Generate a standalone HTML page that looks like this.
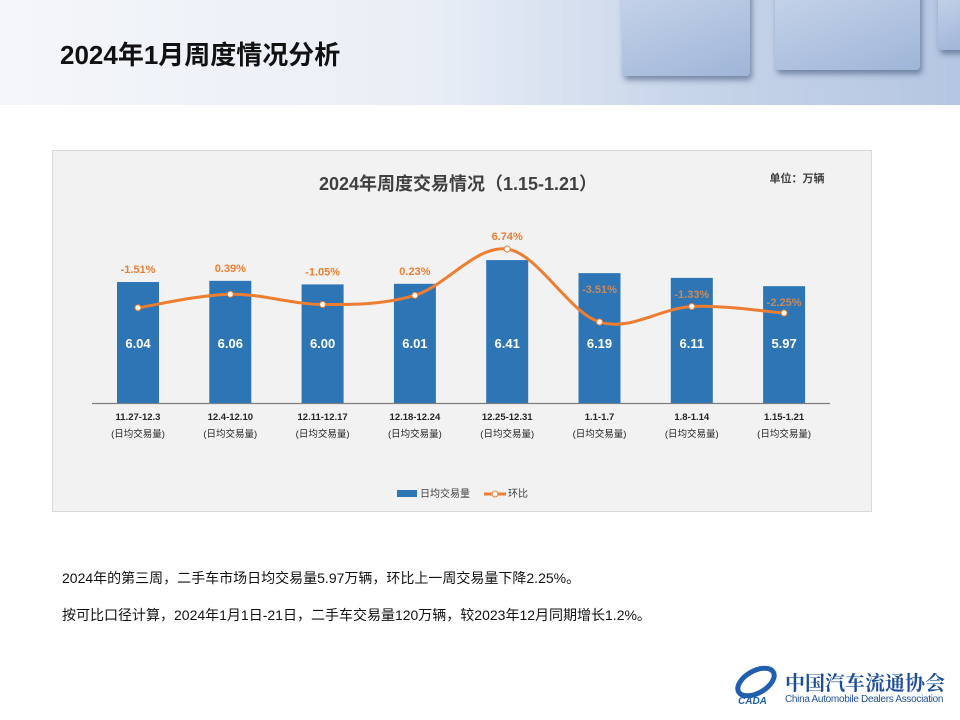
<!DOCTYPE html>
<html><head><meta charset="utf-8">
<style>
body{margin:0;width:960px;height:720px;overflow:hidden;background:#fff;font-family:"Liberation Sans","Noto Sans CJK SC",sans-serif;position:relative}
#hdr{position:absolute;left:0;top:0;width:960px;height:105px;background:linear-gradient(90deg,#f4f6fa 0%,#e9eef6 45%,#c9d6ea 70%,#b4c6e2 100%)}
.cube{position:absolute;background:linear-gradient(160deg,#c6d4ea,#9fb5d8);border-radius:4px;box-shadow:2px 4px 6px rgba(40,60,100,.5)}
h1{position:absolute;left:60px;top:35px;margin:0;font-size:26px;font-weight:bold;color:#111}
.txt{position:absolute;left:62px;font-size:14px;color:#111}
</style></head><body>
<div id="hdr">
 <div class="cube" style="left:622px;top:-10px;width:128px;height:86px"></div>
 <div class="cube" style="left:775px;top:-10px;width:145px;height:80px"></div>
 <div class="cube" style="left:938px;top:-10px;width:30px;height:60px"></div>
</div>
<h1>2024年1月周度情况分析</h1>
<svg id="chart" style="position:absolute;left:0;top:0" width="960" height="720">
 <rect x="52.5" y="150.5" width="819" height="361" fill="#f2f2f2" stroke="#d9d9d9"/>
 <text x="458" y="190" text-anchor="middle" font-size="18" font-weight="bold" fill="#404040">2024年周度交易情况（1.15-1.21）</text>
 <text x="797" y="182" text-anchor="middle" font-size="11" font-weight="bold" fill="#404040">单位：万辆</text>
 <line x1="92" y1="403.5" x2="830" y2="403.5" stroke="#7f7f7f" stroke-width="1.2"/>
 <g id="bars"></g><g id="line"></g><g id="labels"></g>
 <rect x="397" y="490" width="20" height="7" fill="#2e75b6"/>
 <text x="420" y="497" font-size="10" fill="#404040">日均交易量</text>
 <line x1="484" y1="494" x2="506" y2="494" stroke="#ed7d31" stroke-width="3"/>
 <circle cx="495" cy="494" r="3" fill="#fff" stroke="#ed7d31"/>
 <text x="508" y="497" font-size="10" fill="#404040">环比</text>
</svg>
<div class="txt" style="top:568px">2024年的第三周，二手车市场日均交易量5.97万辆，环比上一周交易量下降2.25%。</div>
<div class="txt" style="top:605px">按可比口径计算，2024年1月1日-21日，二手车交易量120万辆，较2023年12月同期增长1.2%。</div>
<div style="position:absolute;left:732px;top:662px;width:48px;height:44px">
 <svg width="48" height="44"><ellipse cx="24" cy="20" rx="20" ry="11" fill="none" stroke="#1f5fae" stroke-width="5" transform="rotate(-30 24 20)"/><text x="6" y="42" font-size="10" font-weight="bold" font-style="italic" fill="#1f5fae">CADA</text></svg>
</div>
<div style="position:absolute;left:785px;top:667px;font-family:'Noto Serif CJK SC',serif;font-size:20px;font-weight:bold;color:#1f4f9c;white-space:nowrap">中国汽车流通协会</div>
<div style="position:absolute;left:785px;top:694px;font-size:10px;color:#1f4f9c;white-space:nowrap;letter-spacing:-0.3px">China Automobile Dealers Association</div>
<script>
const categories=["11.27-12.3","12.4-12.10","12.11-12.17","12.18-12.24","12.25-12.31","1.1-1.7","1.8-1.14","1.15-1.21"];
const volumes=[6.04,6.06,6.00,6.01,6.41,6.19,6.11,5.97];
const momPct=[-1.51,0.39,-1.05,0.23,6.74,-3.51,-1.33,-2.25];
const labelInside=[false,false,false,false,false,true,true,true];
const NS="http://www.w3.org/2000/svg";
const x0=138,step=92.3;
const xAt=i=>x0+i*step;
const yBar=v=>403-(v-4)*59.3;
const yLine=p=>297-p*7.12;
function mk(t,a,parent){const e=document.createElementNS(NS,t);for(const k in a)e.setAttribute(k,a[k]);document.getElementById(parent).appendChild(e);return e;}
categories.forEach((c,i)=>{
 const x=xAt(i),top=yBar(volumes[i]);
 const b=mk('rect',{x:x-21,y:top,width:42,height:403-top,fill:'#2e75b6'},'bars');
 
 
 const v=mk('text',{x:x,y:348,'text-anchor':'middle','font-size':13,'font-weight':'bold',fill:'#fff'},'labels');
 v.textContent=volumes[i].toFixed(2);
 
 
 const c1=mk('text',{x:x,y:420,'text-anchor':'middle','font-size':9.5,'font-weight':'bold',fill:'#262626'},'labels');
 c1.textContent=c;
 
 
 const c2=mk('text',{x:x,y:437,'text-anchor':'middle','font-size':9.5,fill:'#262626'},'labels');
 c2.textContent='(日均交易量)';
 
 
});
const pts=momPct.map((p,i)=>[xAt(i),yLine(p)]);
let d='M'+pts[0][0]+','+pts[0][1];
for(let i=0;i<pts.length-1;i++){
 const p0=pts[Math.max(0,i-1)],p1=pts[i],p2=pts[i+1],p3=pts[Math.min(pts.length-1,i+2)];
 const c1x=p1[0]+(p2[0]-p0[0])/6,c1y=p1[1]+(p2[1]-p0[1])/6,c2x=p2[0]-(p3[0]-p1[0])/6,c2y=p2[1]-(p3[1]-p1[1])/6;
 d+=` C${c1x},${c1y} ${c2x},${c2y} ${p2[0]},${p2[1]}`;
}
const ln=mk('path',{d:d,fill:'none',stroke:'#ed7d31','stroke-width':3},'line');


pts.forEach((p,i)=>{
 const m=mk('circle',{cx:p[0],cy:p[1],r:3,fill:'#fff',stroke:'#ed7d31','stroke-width':1},'line');
 
 
 const top=yBar(volumes[i]);
 const ly=labelInside[i]?top+20:Math.min(top,p[1])-9;
 const t=mk('text',{x:p[0],y:ly,'text-anchor':'middle','font-size':11,'font-weight':'bold',fill:labelInside[i]?'#c98a5a':'#ed7d31'},'labels');
 t.textContent=momPct[i].toFixed(2)+'%';
 
 
});
</script>
</body></html>
